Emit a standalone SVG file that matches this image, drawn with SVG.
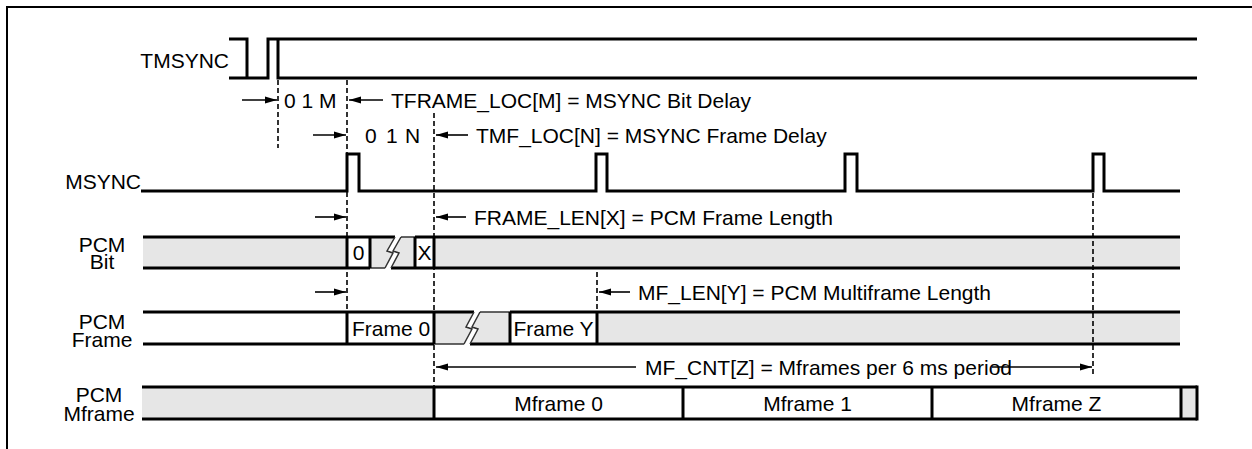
<svg xmlns="http://www.w3.org/2000/svg" width="1252" height="449" viewBox="0 0 1252 449">
<style>
text{font-family:"Liberation Sans",Arial,Helvetica,sans-serif;font-size:21px;fill:#000}
.mid{text-anchor:middle}
.end{text-anchor:end}
.w{fill:none;stroke:#000;stroke-width:3}
.thin{fill:none;stroke:#333;stroke-width:1.5;stroke-linejoin:miter}
.v{stroke:#000;stroke-width:3}
.g{fill:#e6e6e6;stroke:none}
.dash{stroke:#000;stroke-width:1.6;stroke-dasharray:5,3;fill:none}
.arr{stroke:#000;stroke-width:1.6;fill:none;marker-end:url(#ah)}
</style>
<defs>
<marker id="ah" markerUnits="userSpaceOnUse" markerWidth="13" markerHeight="9" refX="12" refY="4.5" orient="auto">
<path d="M0,1 L12,4.5 L0,8 z" fill="#000"/>
</marker>
</defs>
<rect width="1252" height="449" fill="#fff"/>
<g id="frame">
<path d="M7,449 V7 H1252" fill="none" stroke="#000" stroke-width="2"/>
</g>

<g id="tmsync">
<text class="end" x="229" y="67.5">TMSYNC</text>
<path class="w" d="M229,39 H247 V78"/>
<path class="w" d="M229,78 H268 V39 H1197"/>
<path class="w" d="M278,39 V78 H1197"/>
</g>

<g id="msync">
<text class="end" x="141" y="189">MSYNC</text>
<path class="w" d="M141,191 H347 V154 H359 V191 H596 V154 H607 V191 H845 V154 H857 V191 H1093 V154 H1104 V191 H1180"/>
</g>

<g id="pcm-bit">
<text class="mid"><tspan x="102" y="252">PCM</tspan><tspan x="102" y="269">Bit</tspan></text>
<rect class="g" x="143" y="237" width="204" height="31"/>
<polygon class="g" points="370,237 395,237 387,251 393,253 385,268 370,268"/>
<polygon class="g" points="401,237 415,237 415,268 391,268 399,253 393,251"/>
<rect class="g" x="434" y="237" width="746" height="31"/>
<path class="w" d="M143,237 H395 M415,237 H1180 M143,268 H370 M391,268 H1180"/>
<path class="thin" d="M401,237 H415 M370,268 H385 M395,237 L387,251 L393,253 L385,268 M401,237 L393,251 L399,253 L391,268"/>
<path class="v" d="M347,237 V268 M370,237 V268 M415,237 V268 M434,237 V268"/>
<text class="mid" x="358.5" y="260">0</text>
<text class="mid" x="424.5" y="260">X</text>
</g>

<g id="pcm-frame">
<text class="mid"><tspan x="102" y="329">PCM</tspan><tspan x="102" y="347">Frame</tspan></text>
<polygon class="g" points="434,312 474,312 466,327 472,329 464,344 434,344"/>
<polygon class="g" points="480,312 510,312 510,344 470,344 478,329 472,327"/>
<rect class="g" x="597" y="312" width="583" height="32"/>
<path class="w" d="M143,312 H474 M510,312 H1180 M143,344 H434 M470,344 H1180"/>
<path class="thin" d="M480,312 H510 M434,344 H464 M474,312 L466,327 L472,329 L464,344 M480,312 L472,327 L478,329 L470,344"/>
<path class="v" d="M347,312 V344 M434,312 V344 M510,312 V344 M597,312 V344"/>
<text class="mid" x="391" y="336">Frame 0</text>
<text class="mid" x="553.5" y="336">Frame Y</text>
</g>

<g id="pcm-mframe">
<text class="mid"><tspan x="99" y="402">PCM</tspan><tspan x="99" y="421">Mframe</tspan></text>
<rect class="g" x="142" y="387" width="292" height="32"/>
<rect class="g" x="1181" y="387" width="16" height="32"/>
<path class="w" d="M142,387 H1197 M142,419 H1197"/>
<path class="v" d="M434,387 V419 M683,387 V419 M932,387 V419 M1181,387 V419 M1197,385.5 V420.5"/>
<text class="mid" x="558.5" y="411">Mframe 0</text>
<text class="mid" x="807.5" y="411">Mframe 1</text>
<text class="mid" x="1056.5" y="411">Mframe Z</text>
</g>

<g id="connectors">
<path class="dash" d="M278,80 V148"/>
<path class="dash" d="M347,80 V312"/>
<path class="dash" d="M434,113 V387"/>
<path class="dash" d="M597,272 V312"/>
<path class="dash" d="M1093,193 V376"/>
<path class="arr" d="M242,100 H277"/>
<path class="arr" d="M383,100 H349"/>
<path class="arr" d="M313,135 H346"/>
<path class="arr" d="M468,135 H436"/>
<path class="arr" d="M315,217 H346"/>
<path class="arr" d="M466,217 H436"/>
<path class="arr" d="M315,292 H346"/>
<path class="arr" d="M630,292 H599"/>
<path class="arr" d="M636,367 H436"/>
<path class="arr" d="M992,367 H1092"/>
</g>

<g id="labels">
<text x="284" y="107.5">0 1 M</text>
<text y="142.5"><tspan x="365">0</tspan><tspan x="386">1</tspan><tspan x="405">N</tspan></text>
<text x="391" y="107.5">TFRAME_LOC[M] = MSYNC Bit Delay</text>
<text x="476" y="142.5">TMF_LOC[N] = MSYNC Frame Delay</text>
<text x="474" y="224.5">FRAME_LEN[X] = PCM Frame Length</text>
<text x="638" y="299.5">MF_LEN[Y] = PCM Multiframe Length</text>
<text x="645" y="374.5">MF_CNT[Z] = Mframes per 6 ms period</text>
</g>
</svg>
